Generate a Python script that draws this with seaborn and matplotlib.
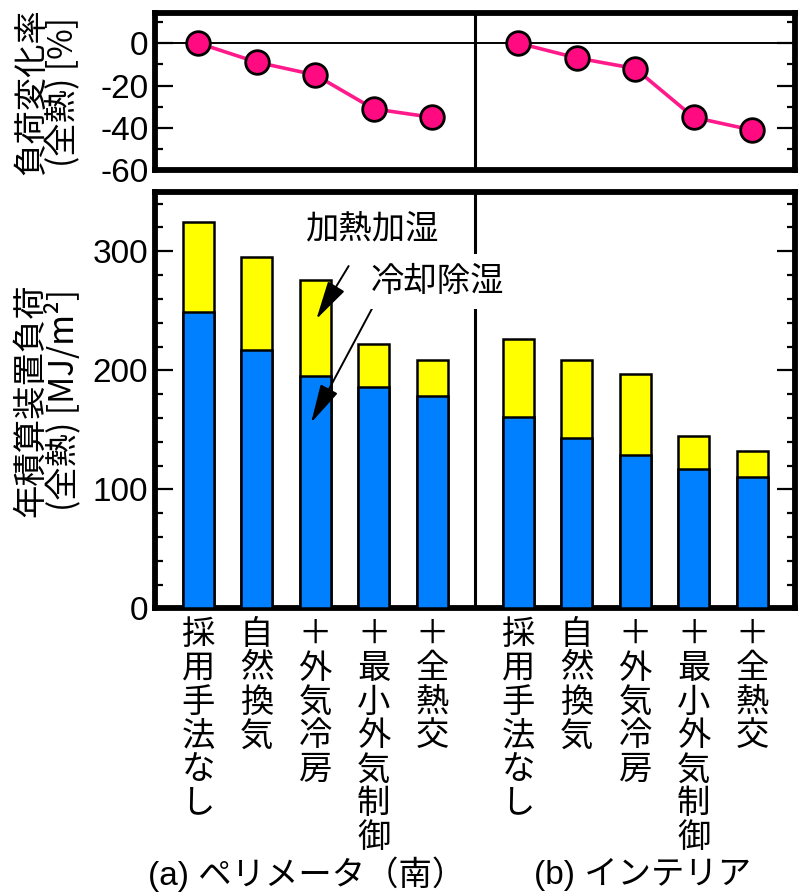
import numpy as np
import pandas as pd
import matplotlib
matplotlib.use("Agg")
import matplotlib.pyplot as plt
from matplotlib import font_manager
import seaborn as sns

# ---- data ----
methods = ["採用手法なし", "自然換気", "＋外気冷房", "＋最小外気制御", "＋全熱交"]
groups = ["(a) ペリメータ（南）", "(b) インテリア"]

# annual cumulative equipment load [MJ/m2]
total_a = [325, 295, 276, 222, 209]      # cooling/dehumid + heating/humid
cool_a = [249, 217, 195, 186, 178]       # cooling/dehumid
total_b = [226, 209, 197, 145, 132]
cool_b = [161, 143, 129, 117, 110]

# load change rate [%]
rate_a = [0, -9, -15, -31, -35]
rate_b = [0, -7, -12, -35, -41]

label_heat = "加熱加湿"
label_cool = "冷却除湿"

# ---- style ----
sns.set_theme(style="white")
available = {f.name for f in font_manager.fontManager.ttflist}
latin = "Liberation Sans Narrow" if "Liberation Sans Narrow" in available else "Liberation Sans"
plt.rcParams["font.family"] = [latin, "Noto Sans CJK JP", "DejaVu Sans"]
plt.rcParams["axes.unicode_minus"] = False
plt.rcParams["font.size"] = 23
for key in ("text.color", "axes.labelcolor", "xtick.color", "ytick.color"):
    plt.rcParams[key] = "black"
cjk = ["Noto Sans CJK JP", "DejaVu Sans"]
mixed = [latin, "Noto Sans CJK JP", "DejaVu Sans"]

gap = 1.47
pos_a = np.arange(5, dtype=float)
pos_b = np.arange(5, dtype=float) + 4 + gap
xpos = np.concatenate([pos_a, pos_b])
divider = 4 + gap / 2
xlim = (-0.735, pos_b[-1] + 0.735)

df = pd.DataFrame({
    "x": xpos,
    "total": total_a + total_b,
    "cool": cool_a + cool_b,
    "rate": rate_a + rate_b,
    "group": [groups[0]] * 5 + [groups[1]] * 5,
})

fig = plt.figure(figsize=(8, 8.92), dpi=100)
ax_top = fig.add_axes([0.194, 0.809, 0.800, 0.176])
ax = fig.add_axes([0.194, 0.318, 0.800, 0.467])

spine_lw = 4.2
tick_fs = 27 if latin.endswith("Narrow") else 24

def frame(a):
    for s in a.spines.values():
        s.set_linewidth(spine_lw)
        s.set_color("black")
        s.set_visible(True)
    a.tick_params(axis="y", which="major", direction="in", length=13, width=1.6,
                  left=True, right=True, labelsize=tick_fs, pad=5, colors="black")
    a.tick_params(axis="y", which="minor", direction="in", length=6, width=1.6,
                  left=True, right=True, colors="black")
    a.tick_params(axis="x", bottom=False, top=False, colors="black")
    a.set_xlim(*xlim)

# ---- top: load change rate ----
frame(ax_top)
ax_top.axhline(0, color="black", lw=1.4, zorder=1)
ax_top.axvline(divider, color="black", lw=2.2, zorder=1)
for g in groups:
    sub = df[df["group"] == g]
    sns.lineplot(data=sub, x="x", y="rate", ax=ax_top, color="#FF1A8C", lw=2.6,
                 marker="o", markersize=17, markerfacecolor="#FF0A80",
                 markeredgecolor="black", markeredgewidth=2.0, zorder=3)
ax_top.set_ylim(-60, 14)
ax_top.set_yticks([0, -20, -40, -60])
ax_top.set_yticks([10, -10, -30, -50], minor=True)
ax_top.set_xticks([])
ax_top.set_xlabel("")
ax_top.set_ylabel("負荷変化率\n(全熱) [%]", fontsize=24, linespacing=0.9,
                  family=cjk, color="black")
ax_top.yaxis.set_label_coords(-0.115, 0.5)

# ---- bottom: stacked bars ----
frame(ax)
sns.barplot(data=df, x="x", y="total", native_scale=True, width=0.53,
            color="#FFFF00", saturation=1, edgecolor="black", linewidth=1.8,
            ax=ax, zorder=2)
sns.barplot(data=df, x="x", y="cool", native_scale=True, width=0.53,
            color="#0080FF", saturation=1, edgecolor="black", linewidth=1.8,
            ax=ax, zorder=3)
ax.axvline(divider, color="black", lw=2.2, zorder=1)
ax.set_xlim(*xlim)
ax.set_ylim(0, 350)
ax.set_yticks([0, 100, 200, 300])
ax.set_yticks(np.arange(20, 350, 20), minor=True)
ax.set_xticks(xpos)
ax.set_xticklabels(["\n".join(m) for m in methods] * 2, va="top",
                   linespacing=0.96, fontsize=24, family=cjk, color="black")
ax.tick_params(axis="x", pad=0)
ax.set_xlabel("")
ax.set_ylabel("年積算装置負荷\n(全熱) [MJ/m²]", fontsize=24, linespacing=0.9,
              family=cjk, color="black")
ax.yaxis.set_label_coords(-0.115, 0.5)

ax.annotate(label_heat, xy=(2.02, 243), xytext=(2.96, 319), ha="center", va="center",
            fontsize=24, family=cjk, color="black", zorder=5,
            arrowprops=dict(arrowstyle="-|>,head_length=1.0,head_width=0.25",
                            color="black", lw=1.4, shrinkA=14, shrinkB=0))
ax.annotate(label_cool, xy=(1.93, 156), xytext=(4.09, 275), ha="center", va="center",
            fontsize=24, family=cjk, color="black", zorder=5,
            bbox=dict(boxstyle="square,pad=0.3", fc="white", ec="none"),
            arrowprops=dict(arrowstyle="-|>,head_length=1.0,head_width=0.25",
                            color="black", lw=1.4, shrinkA=0, shrinkB=0,
                            relpos=(0.05, 0.0)))

# group captions
fig.text(307 / 800, 1 - 874 / 892, groups[0], ha="center", va="center", fontsize=24,
         family=mixed, color="black")
fig.text(643 / 800, 1 - 874 / 892, groups[1], ha="center", va="center", fontsize=24,
         family=mixed, color="black")

fig.savefig("out.png", dpi=100)
